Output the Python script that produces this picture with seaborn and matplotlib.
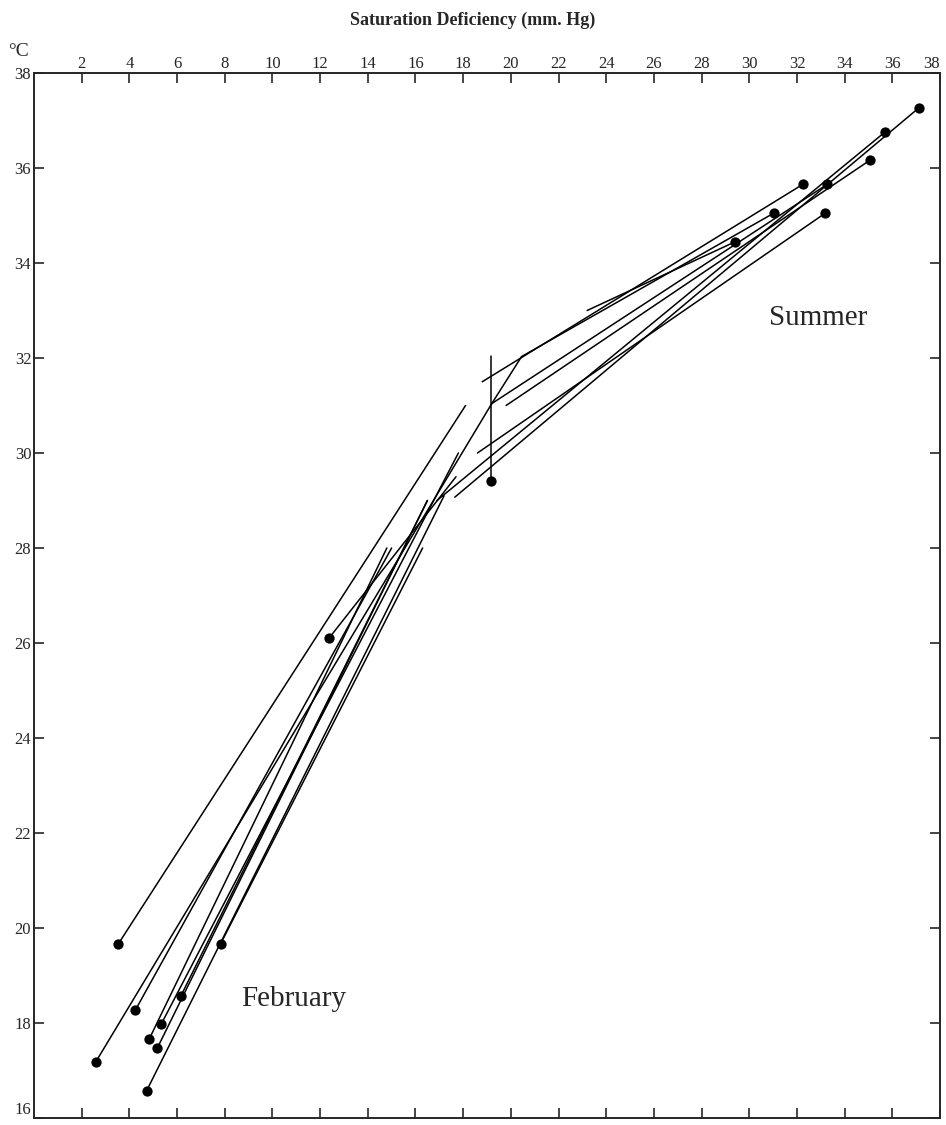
import matplotlib
matplotlib.use("Agg")
import matplotlib.pyplot as plt
import pandas as pd
import seaborn as sns

# February: measured point (dot) -> end of fitted line
feb_x0 = [3.53, 2.59, 4.25, 12.37, 4.84, 5.33, 5.17, 4.72, 6.16, 7.83]
feb_y0 = [19.66, 17.18, 18.27, 26.10, 17.67, 17.97, 17.47, 16.57, 18.57, 19.67]
feb_x1 = [18.10, 19.20, 15.00, 17.70, 14.80, 17.80, 16.50, 17.20, 16.50, 16.30]
feb_y1 = [31.00, 31.04, 28.00, 29.50, 28.00, 30.00, 29.00, 29.10, 29.00, 28.00]

# Summer: measured point (dot) -> end of fitted line
sum_x0 = [37.10, 35.70, 35.05, 32.26, 33.28, 31.03, 33.19, 29.42, 19.16]
sum_y0 = [37.26, 36.76, 36.16, 35.66, 35.66, 35.05, 35.05, 34.45, 29.41]
sum_x1 = [17.65, 16.90, 19.80, 18.80, 19.20, 20.45, 18.60, 23.20, 19.16]
sum_y1 = [29.07, 29.00, 31.00, 31.50, 31.04, 32.03, 30.00, 33.00, 32.05]

# short bent piece joining the February and Summer lines
kink_x = [19.20, 20.45]
kink_y = [31.04, 32.03]

x_ticks = list(range(2, 39, 2))
y_ticks = list(range(16, 39, 2))


def segments(x0, y0, x1, y1, tag):
    rows = []
    for i in range(len(x0)):
        rows.append({"seg": f"{tag}{i}", "x": x0[i], "y": y0[i]})
        rows.append({"seg": f"{tag}{i}", "x": x1[i], "y": y1[i]})
    return rows


rows = segments(feb_x0, feb_y0, feb_x1, feb_y1, "f")
rows += segments(sum_x0, sum_y0, sum_x1, sum_y1, "s")
rows += [{"seg": "k", "x": kink_x[i], "y": kink_y[i]} for i in range(2)]
lines = pd.DataFrame(rows)
dots = pd.DataFrame({"x": feb_x0 + sum_x0, "y": feb_y0 + sum_y0})

sns.set_style("ticks")
plt.rcParams["font.family"] = ["Liberation Serif", "DejaVu Serif"]

fig = plt.figure(figsize=(9.46, 11.25), dpi=100)
ax = fig.add_axes([34 / 946, 7 / 1125, 906 / 946, 1045 / 1125])

sns.lineplot(data=lines, x="x", y="y", units="seg", estimator=None,
             sort=False, color="black", linewidth=1.1, ax=ax)
sns.scatterplot(data=dots, x="x", y="y", color="black", s=55,
                edgecolor="black", linewidth=0, ax=ax, zorder=3)

ax.set_xlim(0, 38)
ax.set_ylim(16, 38)
ax.set_xlabel("")
ax.set_ylabel("")
ax.set_xticks(x_ticks)
ax.set_yticks(y_ticks)
ax.xaxis.set_ticks_position("both")
ax.yaxis.set_ticks_position("both")
ax.tick_params(axis="x", direction="in", length=7, width=1.2,
               labeltop=True, labelbottom=False, labelsize=12, pad=1)
ax.tick_params(axis="y", direction="in", length=7, width=1.2,
               labelleft=True, labelright=False, labelsize=12, pad=2)
for s in ax.spines.values():
    s.set_linewidth(1.4)

# keep the corner labels inside the figure
fig.canvas.draw()
ax.get_xticklabels()[-1].set_horizontalalignment("right")
ax.get_yticklabels()[0].set_verticalalignment("bottom")

ax.text(32.9, 32.85, "Summer", fontsize=21, ha="center", va="center")
ax.text(10.9, 18.5, "February", fontsize=21, ha="center", va="center")

fig.text(473 / 946, 1 - 20 / 1125, "Saturation Deficiency (mm. Hg)",
         ha="center", va="center", fontsize=13, fontweight="bold")
fig.text(18 / 946, 1 - 52 / 1125, "°C", ha="center", va="center", fontsize=14)

fig.savefig("out.png", dpi=100)
